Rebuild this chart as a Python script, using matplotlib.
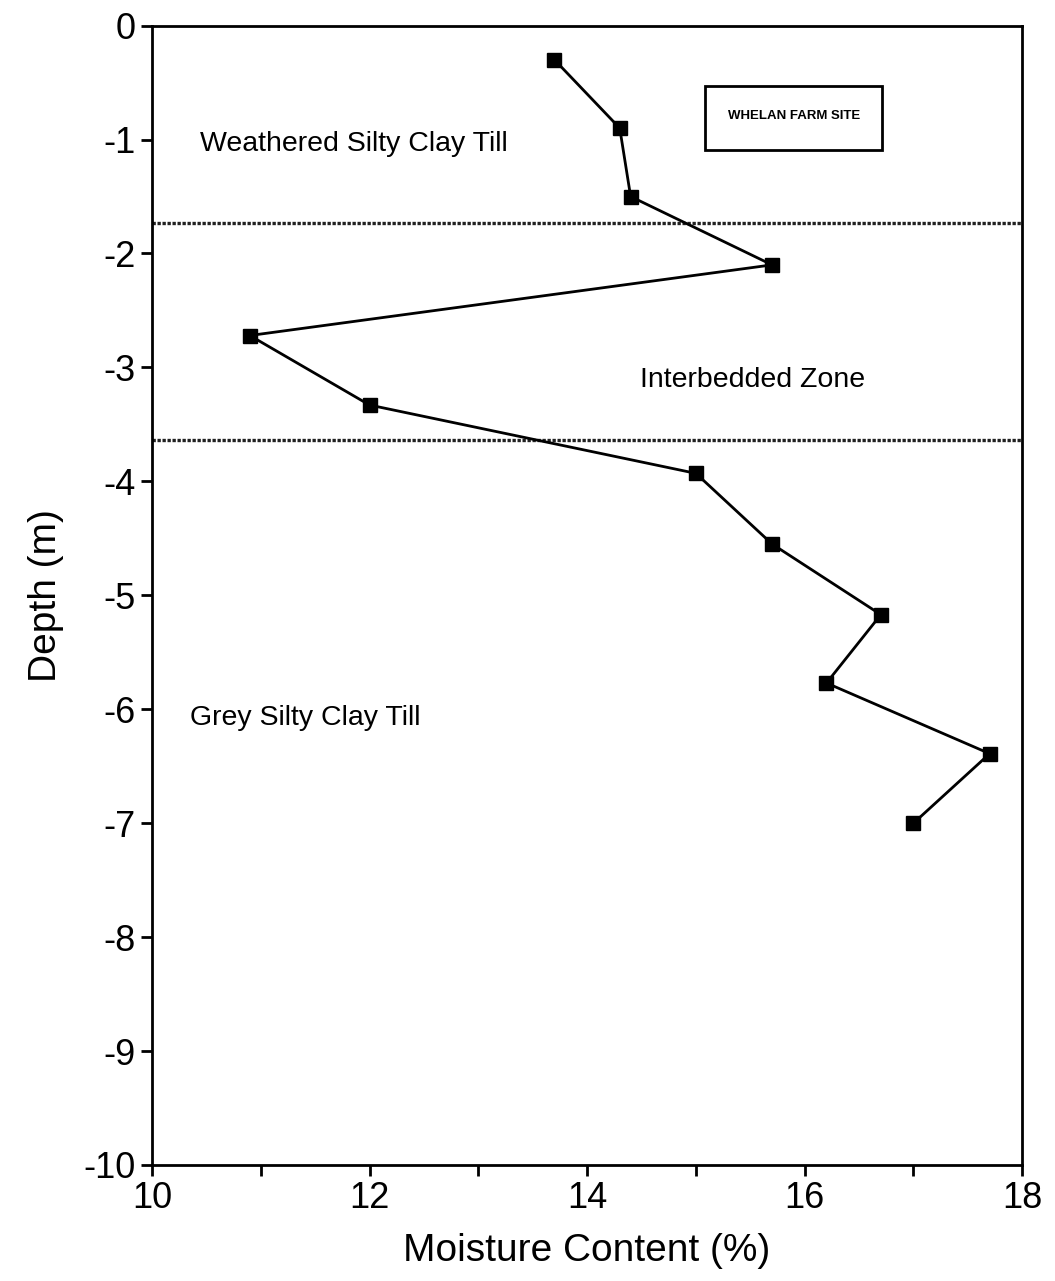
import matplotlib
matplotlib.use("Agg")
import matplotlib.pyplot as plt
from matplotlib.ticker import MultipleLocator
from matplotlib.patches import Rectangle

# moisture content profile
moisture = [13.7, 14.3, 14.4, 15.7, 10.9, 12.0, 15.0, 15.7, 16.7, 16.2, 17.7, 17.0]
depth = [-0.3, -0.9, -1.5, -2.1, -2.72, -3.33, -3.93, -4.55, -5.17, -5.77, -6.39, -7.0]
boundaries = [-1.73, -3.64]

plt.rcParams['font.family'] = ['Liberation Sans', 'DejaVu Sans']
plt.rcParams['axes.unicode_minus'] = False

fig = plt.figure(figsize=(10.55, 12.81), dpi=100)
ax = fig.add_axes([0.144, 0.0906, 0.825, 0.8894])

for b in boundaries:
    ax.axhline(b, color='#222222', lw=2.4, ls=(0, (1, 0.5)), zorder=1)

ax.plot(moisture, depth, color='black', lw=2, marker='s', ms=10.5,
        markerfacecolor='black', zorder=3)

ax.text(10.44, -1.04, 'Weathered Silty Clay Till', fontsize=20.5, va='center')
ax.text(14.49, -3.11, 'Interbedded Zone', fontsize=20.5, va='center')
ax.text(10.35, -6.08, 'Grey Silty Clay Till', fontsize=20.5, va='center')

# site label box
ax.add_patch(Rectangle((15.085, -1.096), 1.628, 0.57, fc='white', ec='black', lw=2, zorder=2))
ax.text(15.9, -0.79, 'WHELAN FARM SITE', fontsize=9.5, fontweight='bold',
        ha='center', va='center', zorder=3)

ax.set_xlim(10, 18)
ax.set_ylim(-10, 0)
ax.xaxis.set_major_locator(MultipleLocator(2))
ax.xaxis.set_minor_locator(MultipleLocator(1))
ax.yaxis.set_major_locator(MultipleLocator(1))
ax.tick_params(which='both', direction='out', width=2, length=8, labelsize=26)
for s in ax.spines.values():
    s.set_linewidth(2)

ax.set_xlabel('Moisture Content (%)', fontsize=28, labelpad=12)
ax.set_ylabel('Depth (m)', fontsize=28, labelpad=14)

fig.savefig('out.png', dpi=100)
